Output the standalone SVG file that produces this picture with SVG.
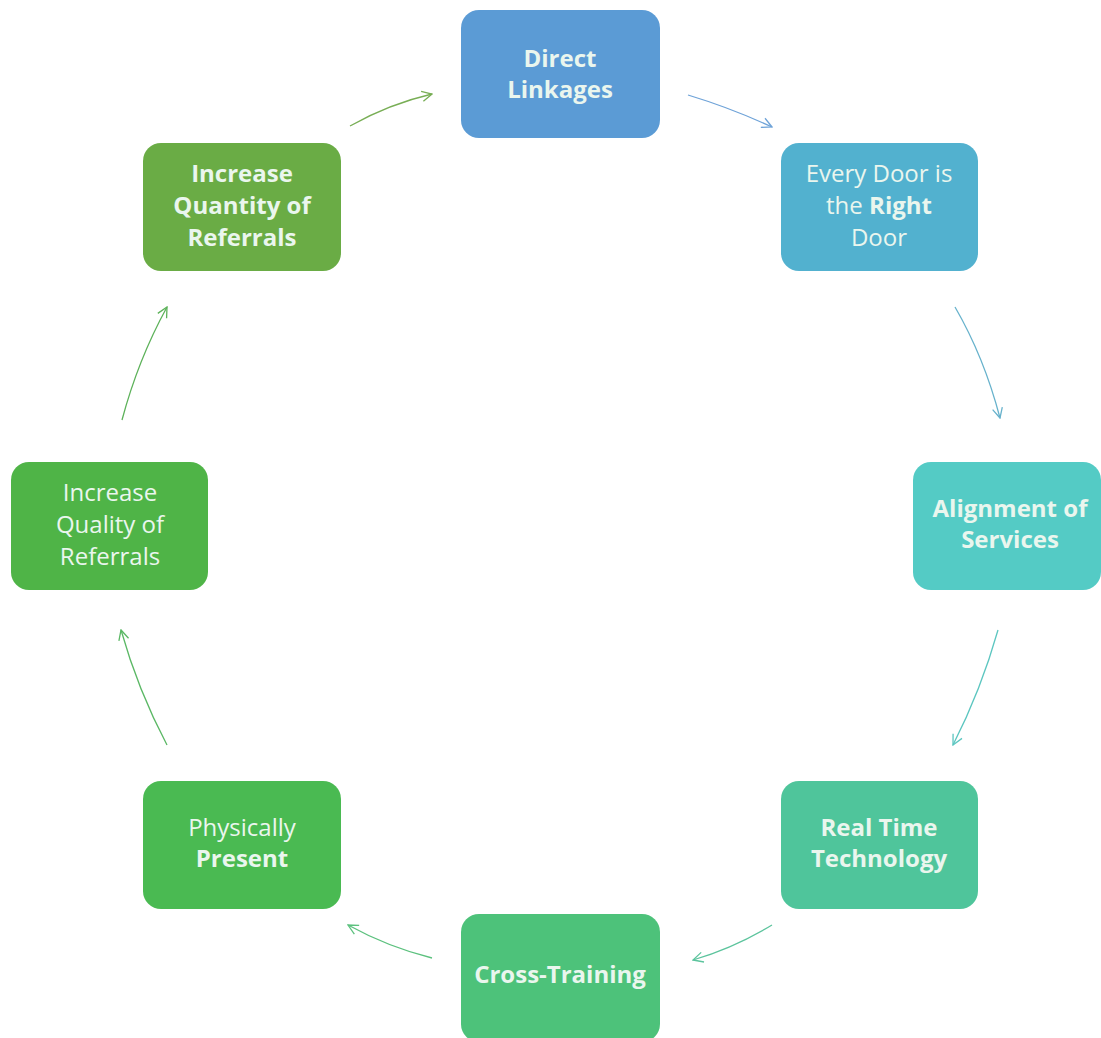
<svg xmlns="http://www.w3.org/2000/svg" width="1101" height="1038" viewBox="0 0 1101 1038">
<defs>
<style>
.t{font-family:"Open Sans","Liberation Sans",sans-serif;font-size:24px;fill:#eaf6ee;text-anchor:middle}
.b{font-weight:bold}
.c{fill:none;stroke-width:1.3}
</style>
<marker id="m1" viewBox="0 0 12 12" refX="11" refY="6" markerWidth="12" markerHeight="12" markerUnits="userSpaceOnUse" orient="auto"><path d="M1,1 L11,6 L1,11" fill="none" stroke="#6fa3d8" stroke-width="1.3"/></marker>
<marker id="m2" viewBox="0 0 12 12" refX="11" refY="6" markerWidth="12" markerHeight="12" markerUnits="userSpaceOnUse" orient="auto"><path d="M1,1 L11,6 L1,11" fill="none" stroke="#67b2cc" stroke-width="1.3"/></marker>
<marker id="m3" viewBox="0 0 12 12" refX="11" refY="6" markerWidth="12" markerHeight="12" markerUnits="userSpaceOnUse" orient="auto"><path d="M1,1 L11,6 L1,11" fill="none" stroke="#5cc6c0" stroke-width="1.3"/></marker>
<marker id="m4" viewBox="0 0 12 12" refX="11" refY="6" markerWidth="12" markerHeight="12" markerUnits="userSpaceOnUse" orient="auto"><path d="M1,1 L11,6 L1,11" fill="none" stroke="#5cc49d" stroke-width="1.3"/></marker>
<marker id="m5" viewBox="0 0 12 12" refX="11" refY="6" markerWidth="12" markerHeight="12" markerUnits="userSpaceOnUse" orient="auto"><path d="M1,1 L11,6 L1,11" fill="none" stroke="#5cc17e" stroke-width="1.3"/></marker>
<marker id="m6" viewBox="0 0 12 12" refX="11" refY="6" markerWidth="12" markerHeight="12" markerUnits="userSpaceOnUse" orient="auto"><path d="M1,1 L11,6 L1,11" fill="none" stroke="#5bb865" stroke-width="1.3"/></marker>
<marker id="m7" viewBox="0 0 12 12" refX="11" refY="6" markerWidth="12" markerHeight="12" markerUnits="userSpaceOnUse" orient="auto"><path d="M1,1 L11,6 L1,11" fill="none" stroke="#5db25a" stroke-width="1.3"/></marker>
<marker id="m8" viewBox="0 0 12 12" refX="11" refY="6" markerWidth="12" markerHeight="12" markerUnits="userSpaceOnUse" orient="auto"><path d="M1,1 L11,6 L1,11" fill="none" stroke="#78ae55" stroke-width="1.3"/></marker>
</defs>
<rect width="1101" height="1038" fill="#ffffff"/>
<g id="connectors">
<path class="c" stroke="#6fa3d8" d="M688,95 Q731,108 772,127" marker-end="url(#m1)"/>
<path class="c" stroke="#67b2cc" d="M955,307 Q984,357 1000,418" marker-end="url(#m2)"/>
<path class="c" stroke="#5cc6c0" d="M998,630 Q981,690 953,745" marker-end="url(#m3)"/>
<path class="c" stroke="#5cc49d" d="M772,925 Q734,948 693,960" marker-end="url(#m4)"/>
<path class="c" stroke="#5cc17e" d="M432,958 Q388,947 348,925" marker-end="url(#m5)"/>
<path class="c" stroke="#5bb865" d="M167,745 Q138,690 121,630" marker-end="url(#m6)"/>
<path class="c" stroke="#5db25a" d="M122,420 Q138,360 167,307" marker-end="url(#m7)"/>
<path class="c" stroke="#78ae55" d="M350,126 Q389,104 432,94" marker-end="url(#m8)"/>
</g>
<g id="n1">
<rect x="461" y="10" width="199" height="128" rx="18" fill="#5b9bd5"/>
<text class="t b" x="560" y="67">Direct</text>
<text class="t b" x="560" y="98">Linkages</text>
</g>
<g id="n2">
<rect x="781" y="143" width="197" height="128" rx="18" fill="#52b1cf"/>
<text class="t" x="879" y="182">Every Door is</text>
<text class="t" x="879" y="214">the <tspan class="b">Right</tspan></text>
<text class="t" x="879" y="246">Door</text>
</g>
<g id="n3">
<rect x="913" y="462" width="188" height="128" rx="18" fill="#54cbc5"/>
<text class="t b" x="1010" y="517">Alignment of</text>
<text class="t b" x="1010" y="548">Services</text>
</g>
<g id="n4">
<rect x="781" y="781" width="197" height="128" rx="18" fill="#4fc59b"/>
<text class="t b" x="879" y="836">Real Time</text>
<text class="t b" x="879" y="867">Technology</text>
</g>
<g id="n5">
<rect x="461" y="914" width="199" height="128" rx="18" fill="#4dc27a"/>
<text class="t b" x="560" y="983">Cross-Training</text>
</g>
<g id="n6">
<rect x="143" y="781" width="198" height="128" rx="18" fill="#4aba52"/>
<text class="t" x="242" y="836">Physically</text>
<text class="t b" x="242" y="867">Present</text>
</g>
<g id="n7">
<rect x="11" y="462" width="197" height="128" rx="18" fill="#4fb447"/>
<text class="t" x="110" y="501">Increase</text>
<text class="t" x="110" y="533">Quality of</text>
<text class="t" x="110" y="565">Referrals</text>
</g>
<g id="n8">
<rect x="143" y="143" width="198" height="128" rx="18" fill="#6aac45"/>
<text class="t b" x="242" y="182">Increase</text>
<text class="t b" x="242" y="214">Quantity of</text>
<text class="t b" x="242" y="246">Referrals</text>
</g>
</svg>
